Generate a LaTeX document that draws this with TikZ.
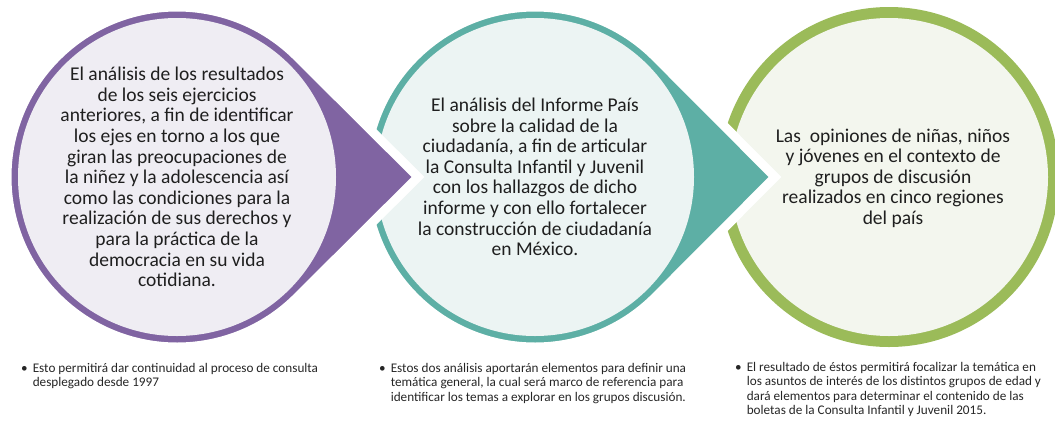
\documentclass[tikz,border=0pt]{standalone}
\usepackage{fontspec}
\setmainfont{Carlito}
\definecolor{lila}{HTML}{8064A2}
\definecolor{lilaclaro}{HTML}{EFEDF3}
\definecolor{turquesa}{HTML}{5DAFA5}
\definecolor{turquesaclaro}{HTML}{ECF4F3}
\definecolor{verde}{HTML}{9BBB59}
\definecolor{verdeclaro}{HTML}{F3F6EE}
\begin{document}
\begin{tikzpicture}[x=1pt, y=-1pt,
	gota/.style={draw=white, line width=9pt, line join=miter},
	texto/.style={align=center, inner sep=0pt, text=black!88, font=\fontsize{19.5}{20.6}\selectfont},
	nota/.style={anchor=north west, inner sep=0pt, text=black!85, font=\fontsize{13.2}{14.5}\selectfont}]
	\useasboundingbox (0,0) rectangle (1055,421);
	% circulo 3 (sin punta)
	\fill[verde] (889,177) circle (170);
	\fill[verdeclaro] (889,177) circle (159);
	% circulo 2
	\draw[gota, fill=turquesa] (535,177) ++(45:170) arc[start angle=45, end angle=315, radius=170] -- (775,177) -- cycle;
	\fill[turquesaclaro] (535,177) circle (159);
	% circulo 1
	\draw[gota, fill=lila] (177,177) ++(45:170) arc[start angle=45, end angle=315, radius=170] -- (418,177) -- cycle;
	\fill[lilaclaro] (177,177) circle (159);
	% textos
	\node[texto] (t1) at (177,177) {El análisis de los resultados\\de los seis ejercicios\\anteriores, a fin de identificar\\los ejes en torno a los que\\giran las preocupaciones de\\la niñez y la adolescencia así\\como las condiciones para la\\realización de sus derechos y\\para la práctica de la\\democracia en su vida\\cotidiana.};
	\node[texto] (t2) at (535,177) {El análisis del Informe País\\sobre la calidad de la\\ciudadanía, a fin de articular\\la Consulta Infantil y Juvenil\\con los hallazgos de dicho\\informe y con ello fortalecer\\la construcción de ciudadanía\\en México.};
	\node[texto] (t3) at (893,178) {Las\ \ opiniones de niñas, niños\\y jóvenes en el contexto de\\grupos de discusión\\realizados en cinco regiones\\del país};
	% notas
	\node[nota] (n1) at (21,362) {\begin{tabular}{@{}l@{\hspace{5pt}}l@{}}\textbullet & Esto permitirá dar continuidad al proceso de consulta\\ & desplegado desde 1997\end{tabular}};
	\node[nota] (n2) at (379,362) {\begin{tabular}{@{}l@{\hspace{5pt}}l@{}}\textbullet & Estos dos análisis aportarán elementos para definir una\\ & temática general, la cual será marco de referencia para\\ & identificar los temas a explorar en los grupos discusión.\end{tabular}};
	\node[nota] (n3) at (735,361) {\begin{tabular}{@{}l@{\hspace{5pt}}l@{}}\textbullet & El resultado de éstos permitirá focalizar la temática en\\ & los asuntos de interés de los distintos grupos de edad y\\ & dará elementos para determinar el contenido de las\\ & boletas de la Consulta Infantil y Juvenil 2015.\end{tabular}};
\end{tikzpicture}
\end{document}
